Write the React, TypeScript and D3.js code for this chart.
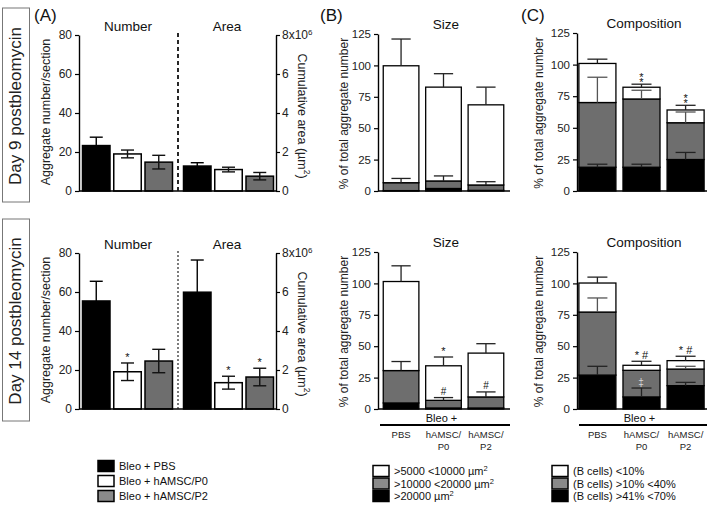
import { useEffect, useRef } from 'react'
import * as d3 from 'd3'

// treatment groups (panel A bars, legend)
const groups = ['Bleo + PBS', 'Bleo + hAMSC/P0', 'Bleo + hAMSC/P2']
const groupFills = ['#000000', '#ffffff', '#6e6e6e']

// panel A, number per section and cumulative area (x10^6 µm²)
const day9Number = [23.3, 19.0, 14.8]
const day9NumberErr = [4.3, 2.0, 3.5]
const day9Area = [1.28, 1.1, 0.76]
const day9AreaErr = [0.17, 0.12, 0.19]
const day14Number = [55.4, 19.1, 24.6]
const day14NumberErr = [10.1, 4.5, 6.0]
const day14Area = [5.99, 1.35, 1.64]
const day14AreaErr = [1.65, 0.33, 0.45]
const day9NumberMarks = ['', '', '']
const day9AreaMarks = ['', '', '']
const day14NumberMarks = ['', '*', '']
const day14AreaMarks = ['', '*', '*']

const numberTicks = [0, 20, 40, 60, 80]
const areaTicks = [0, 2, 4, 6, 8]
const percentTicks = [0, 25, 50, 75, 100, 125]

// panels B and C categories
const treatments = ['PBS', 'hAMSC/P0', 'hAMSC/P2']

// panel B size, stacked bottom -> top: large, medium, small
const sizeLegend = ['>5000 <10000 µm', '>10000 <20000 µm', '>20000 µm']
const day9SizeLarge = [0.3, 2.0, 0.5]
const day9SizeMedium = [6.3, 6.0, 4.3]
const day9SizeSmall = [93.1, 74.7, 63.8]
const day9SizeLargeErr = [0, 0, 0]
const day9SizeMediumErr = [3.4, 4.0, 2.6]
const day9SizeSmallErr = [21.3, 10.7, 14.1]
const day14SizeLarge = [4.8, 0.8, 0.8]
const day14SizeMedium = [25.8, 6.1, 8.8]
const day14SizeSmall = [70.9, 27.5, 34.9]
const day14SizeLargeErr = [0, 0, 0]
const day14SizeMediumErr = [7.2, 2.2, 4.0]
const day14SizeSmallErr = [12.5, 7.0, 7.5]

// panel C composition, stacked bottom -> top: >41% <70%, >10% <40%, <10% B cells
const compLegend = ['(B cells) <10%', '(B cells) >10% <40%', '(B cells) >41% <70%']
const day9CompHigh = [18.8, 18.8, 24.9]
const day9CompMid = [51.2, 54.0, 29.1]
const day9CompLow = [30.9, 9.3, 10.1]
const day9CompHighErr = [2.4, 2.4, 5.6]
const day9CompMidErr = [20.0, 6.9, 8.5]
const day9CompLowErr = [3.4, 2.4, 3.7]
const day14CompHigh = [27.0, 9.6, 18.6]
const day14CompMid = [50.2, 21.2, 13.2]
const day14CompLow = [23.1, 4.0, 6.7]
const day14CompHighErr = [7.0, 7.1, 2.6]
const day14CompMidErr = [11.2, 0, 2.2]
const day14CompLowErr = [4.7, 3.2, 3.5]

interface Mark {
  bar: number
  layer: number
  text: string
}

const day9SizeMarks: Mark[] = []
const day14SizeMarks: Mark[] = [
  { bar: 1, layer: 2, text: '*' },
  { bar: 1, layer: 1, text: '#' },
  { bar: 2, layer: 1, text: '#' },
]
const day9CompMarks: Mark[] = [
  { bar: 1, layer: 2, text: '**' },
  { bar: 2, layer: 2, text: '**' },
]
const day14CompMarks: Mark[] = [
  { bar: 1, layer: 2, text: '* #' },
  { bar: 2, layer: 2, text: '* #' },
]

const FONT = "'Liberation Sans', Arial, Helvetica, sans-serif"
const GREY = '#6e6e6e'
const LEGEND_GREY = '#8a8a8a'

type G = d3.Selection<SVGGElement, unknown, null, undefined>

function leftAxis(g: G, y: d3.ScaleLinear<number, number>, x: number, ticks: number[], fs: number) {
  const ax = g
    .append('g')
    .attr('transform', `translate(${x},0)`)
    .call(d3.axisLeft(y).tickValues(ticks).tickSize(4).tickPadding(3).tickSizeOuter(0))
  ax.select('.domain').attr('stroke', '#000').attr('stroke-width', 1.4)
  ax.selectAll('.tick line').attr('stroke', '#000').attr('stroke-width', 1.2)
  ax.selectAll('text').attr('font-family', FONT).attr('font-size', fs).attr('fill', '#222')
}

function vLabel(g: G, text: string, x: number, y: number, fs: number, rot: number) {
  g.append('text')
    .attr('transform', `translate(${x},${y}) rotate(${rot})`)
    .attr('text-anchor', 'middle')
    .attr('dominant-baseline', 'middle')
    .attr('font-family', FONT)
    .attr('font-size', fs)
    .attr('fill', '#222')
    .text(text)
}

function title(g: G, text: string, x: number, y: number, fs = 13.5) {
  g.append('text')
    .attr('x', x)
    .attr('y', y)
    .attr('text-anchor', 'middle')
    .attr('font-family', FONT)
    .attr('font-size', fs)
    .attr('fill', '#111')
    .text(text)
}

function drawMarks(g: G, marks: string[], cx: (i: number) => number, tops: number[]) {
  marks.forEach((m, i) => {
    if (!m) return
    g.append('text')
      .attr('x', cx(i))
      .attr('y', tops[i] + 1)
      .attr('text-anchor', 'middle')
      .attr('font-family', FONT)
      .attr('font-size', 11)
      .attr('fill', '#111')
      .text(m)
  })
}

function drawA(
  g: G,
  top: number,
  bottom: number,
  number: number[],
  numberErr: number[],
  area: number[],
  areaErr: number[],
  numberMarks: string[],
  areaMarks: string[],
  dashed: boolean,
) {
  const xl = 79
  const xr = 276
  const yN = d3.scaleLinear().domain([0, 80]).range([bottom, top])
  const yA = d3.scaleLinear().domain([0, 8]).range([bottom, top])
  const xN = d3.scaleBand<string>().domain(groups).range([xl + 1, 175]).paddingInner(0.12).paddingOuter(0.08)
  const xA = d3.scaleBand<string>().domain(groups).range([181, xr]).paddingInner(0.12).paddingOuter(0.08)

  const sets = [
    { x: xN, y: yN, v: number, e: numberErr, marks: numberMarks },
    { x: xA, y: yA, v: area, e: areaErr, marks: areaMarks },
  ]
  sets.forEach((s) => {
    const bw = s.x.bandwidth()
    g.selectAll(null)
      .data(s.v)
      .enter()
      .append('rect')
      .attr('x', (_, i) => s.x(groups[i]) ?? 0)
      .attr('y', (d) => s.y(d))
      .attr('width', bw)
      .attr('height', (d) => s.y(0) - s.y(d))
      .attr('fill', (_, i) => groupFills[i])
      .attr('stroke', '#000')
      .attr('stroke-width', 1.5)
    const cx = (i: number) => (s.x(groups[i]) ?? 0) + bw / 2
    s.v.forEach((d, i) => {
      const hi = s.y(d + s.e[i])
      const lo = s.y(d - s.e[i])
      const col = i === 0 ? '#000' : '#111'
      g.append('line').attr('x1', cx(i)).attr('x2', cx(i)).attr('y1', hi).attr('y2', lo).attr('stroke', col).attr('stroke-width', 1.4)
      ;[hi, lo].forEach((yy) =>
        g.append('line').attr('x1', cx(i) - 6.5).attr('x2', cx(i) + 6.5).attr('y1', yy).attr('y2', yy).attr('stroke', col).attr('stroke-width', 1.4),
      )
    })
    drawMarks(
      g,
      s.marks,
      cx,
      s.v.map((d, i) => s.y(d + s.e[i]) - 3),
    )
  })

  // baseline
  g.append('line').attr('x1', xl).attr('x2', xr).attr('y1', bottom).attr('y2', bottom).attr('stroke', '#000').attr('stroke-width', 1.4)

  leftAxis(g, yN, xl, numberTicks, 12)

  const ra = g
    .append('g')
    .attr('transform', `translate(${xr},0)`)
    .call(
      d3
        .axisRight(yA)
        .tickValues(areaTicks)
        .tickSize(4)
        .tickPadding(2)
        .tickSizeOuter(0)
        .tickFormat((d) => String(d)),
    )
  ra.select('.domain').attr('stroke', '#000').attr('stroke-width', 1.4)
  ra.selectAll('.tick line').attr('stroke', '#000').attr('stroke-width', 1.2)
  ra.selectAll('text').attr('font-family', FONT).attr('font-size', 12).attr('fill', '#222')
  const topTick = ra.selectAll<SVGTextElement, number>('.tick text').filter((d) => d === 8)
  topTick.text('8x10')
  topTick.append('tspan').attr('baseline-shift', 'super').attr('font-size', 8).text('6')

  g.append('line')
    .attr('x1', 178)
    .attr('x2', 178)
    .attr('y1', top - 2)
    .attr('y2', bottom)
    .attr('stroke', '#111')
    .attr('stroke-width', dashed ? 1.8 : 1.1)
    .attr('stroke-dasharray', dashed ? '4,3' : '2,2')

  title(g, 'Number', 128, top - 4)
  title(g, 'Area', 227, top - 4)

  const mid = (top + bottom) / 2
  vLabel(g, 'Aggregate number/section', 47, mid - 1, 12.5, -90)
  const rl = g
    .append('text')
    .attr('transform', `translate(301,${mid + 3}) rotate(90)`)
    .attr('text-anchor', 'middle')
    .attr('dominant-baseline', 'middle')
    .attr('font-family', FONT)
    .attr('font-size', 12.5)
    .attr('fill', '#222')
  rl.append('tspan').text('Cumulative area (µm')
  rl.append('tspan').attr('baseline-shift', 'super').attr('font-size', 8.5).text('2')
  rl.append('tspan').text(')')
}

interface Layer {
  values: number[]
  errs: number[]
  fill: string
  errColor: string
}

function drawStack(
  g: G,
  x0: number,
  x1: number,
  top: number,
  bottom: number,
  layers: Layer[],
  marks: Mark[],
  name: string,
  labelX: number,
  withCategories: boolean,
  padOuter: number,
) {
  const y = d3.scaleLinear().domain([0, 125]).range([bottom, top])
  const x = d3.scaleBand<string>().domain(treatments).range([x0 + 1, x1]).paddingInner(0.16).paddingOuter(padOuter)
  const bw = x.bandwidth()
  const cx = (i: number) => (x(treatments[i]) ?? 0) + bw / 2

  const stacked = treatments.map((_, i) => {
    let acc = 0
    return layers.map((l) => {
      const y0 = acc
      acc += l.values[i]
      return { y0, y1: acc }
    })
  })

  layers.forEach((l, li) => {
    g.selectAll(null)
      .data(treatments)
      .enter()
      .append('rect')
      .attr('x', (d) => x(d) ?? 0)
      .attr('y', (_, i) => y(stacked[i][li].y1))
      .attr('width', bw)
      .attr('height', (_, i) => y(stacked[i][li].y0) - y(stacked[i][li].y1))
      .attr('fill', l.fill)
      .attr('stroke', '#000')
      .attr('stroke-width', 1.3)
  })

  layers.forEach((l, li) => {
    treatments.forEach((_, i) => {
      const e = l.errs[i]
      if (!e) return
      const base = y(stacked[i][li].y1)
      const hi = y(stacked[i][li].y1 + e)
      g.append('line').attr('x1', cx(i)).attr('x2', cx(i)).attr('y1', base).attr('y2', hi).attr('stroke', l.errColor).attr('stroke-width', 1.3)
      g.append('line')
        .attr('x1', cx(i) - bw * 0.27)
        .attr('x2', cx(i) + bw * 0.27)
        .attr('y1', hi)
        .attr('y2', hi)
        .attr('stroke', l.errColor)
        .attr('stroke-width', 1.3)
    })
  })

  marks.forEach((m) => {
    const s = stacked[m.bar][m.layer]
    const errTop = y(s.y1 + layers[m.layer].errs[m.bar])
    if (m.text === '**') {
      // two stars stacked vertically: one text, each glyph placed on its own
      g.append('text')
        .attr('x', `${cx(m.bar)} ${cx(m.bar)}`)
        .attr('y', `${errTop - 3.5} ${errTop + 1.5}`)
        .attr('text-anchor', 'middle')
        .attr('font-family', FONT)
        .attr('font-size', 11)
        .attr('fill', '#111')
        .text(m.text)
    } else {
      g.append('text')
        .attr('x', cx(m.bar))
        .attr('y', errTop - 2.5)
        .attr('text-anchor', 'middle')
        .attr('font-family', FONT)
        .attr('font-size', m.text === '#' ? 10 : 11)
        .attr('fill', '#111')
        .text(m.text)
    }
  })

  g.append('line').attr('x1', x0).attr('x2', x1 + 2).attr('y1', bottom).attr('y2', bottom).attr('stroke', '#000').attr('stroke-width', 1.4)
  leftAxis(g, y, x0, percentTicks, 11.5)

  title(g, name, (x0 + x1) / 2 + 3, top - 5)
  vLabel(g, '% of total aggregate number', labelX, (top + bottom) / 2 + 1, 12, -90)

  if (withCategories) {
    g.append('text')
      .attr('x', cx(1) - 2)
      .attr('y', bottom + 13)
      .attr('text-anchor', 'middle')
      .attr('font-family', FONT)
      .attr('font-size', 11)
      .attr('fill', '#111')
      .text('Bleo +')
    g.append('line')
      .attr('x1', x0 + 2)
      .attr('x2', x1 + 2)
      .attr('y1', bottom + 16)
      .attr('y2', bottom + 16)
      .attr('stroke', '#000')
      .attr('stroke-width', 2)
    treatments.forEach((t, i) => {
      const parts = t.includes('/') ? [t.split('/')[0] + '/', t.split('/')[1]] : [t]
      const tx = g
        .append('text')
        .attr('x', cx(i))
        .attr('y', bottom + 29)
        .attr('text-anchor', 'middle')
        .attr('font-family', FONT)
        .attr('font-size', 9.5)
        .attr('fill', '#222')
      parts.forEach((p, k) =>
        tx
          .append('tspan')
          .attr('x', cx(i))
          .attr('dy', k === 0 ? 0 : 12)
          .text(p),
      )
    })
  }
}

function legend(g: G, x: number, y: number, step: number, fills: string[], labels: string[], sup: boolean, w: number, h: number) {
  labels.forEach((lab, i) => {
    const cy = y + i * step
    g.append('rect')
      .attr('x', x)
      .attr('y', cy - h / 2)
      .attr('width', w)
      .attr('height', h)
      .attr('fill', fills[i])
      .attr('stroke', '#000')
      .attr('stroke-width', 1.5)
    const t = g
      .append('text')
      .attr('x', x + w + 5)
      .attr('y', cy + 4)
      .attr('font-family', FONT)
      .attr('font-size', 11)
      .attr('fill', '#111')
      .text(lab)
    if (sup) t.append('tspan').attr('baseline-shift', 'super').attr('font-size', 7.5).text('2')
  })
}

export default function App() {
  const ref = useRef<SVGSVGElement | null>(null)

  useEffect(() => {
    if (!ref.current) return
    const svg = d3.select(ref.current)
    svg.selectAll('*').remove()
    const g = svg.append('g') as unknown as G

    // row labels
    const rows = [
      { y: 8, h: 194, text: 'Day 9 postbleomycin' },
      { y: 219, h: 202, text: 'Day 14 postbleomycin' },
    ]
    rows.forEach((r) => {
      g.append('rect').attr('x', 2.5).attr('y', r.y).attr('width', 27).attr('height', r.h).attr('fill', '#fff').attr('stroke', '#777').attr('stroke-width', 1)
      vLabel(g, r.text, 17, r.y + r.h / 2 + 1, 17, -90)
    })

    // panel letters
    ;[
      ['(A)', 34],
      ['(B)', 320],
      ['(C)', 521],
    ].forEach(([t, x]) =>
      g
        .append('text')
        .attr('x', x as number)
        .attr('y', 21)
        .attr('font-family', FONT)
        .attr('font-size', 17)
        .attr('fill', '#111')
        .text(t as string),
    )

    drawA(g, 35, 191, day9Number, day9NumberErr, day9Area, day9AreaErr, day9NumberMarks, day9AreaMarks, true)
    drawA(g, 253, 409, day14Number, day14NumberErr, day14Area, day14AreaErr, day14NumberMarks, day14AreaMarks, false)

    const sizeLayers = (large: number[], medium: number[], small: number[], le: number[], me: number[], se: number[]): Layer[] => [
      { values: large, errs: le, fill: '#000', errColor: '#000' },
      { values: medium, errs: me, fill: GREY, errColor: '#222' },
      { values: small, errs: se, fill: '#fff', errColor: '#222' },
    ]
    const compLayers = (high: number[], mid: number[], low: number[], he: number[], me: number[], le: number[]): Layer[] => [
      { values: high, errs: he, fill: '#000', errColor: '#222' },
      { values: mid, errs: me, fill: GREY, errColor: '#555' },
      { values: low, errs: le, fill: '#fff', errColor: '#222' },
    ]

    drawStack(
      g, 378, 508, 34, 191,
      sizeLayers(day9SizeLarge, day9SizeMedium, day9SizeSmall, day9SizeLargeErr, day9SizeMediumErr, day9SizeSmallErr),
      day9SizeMarks, 'Size', 345, false, 0.1,
    )
    drawStack(
      g, 378, 508, 252, 409,
      sizeLayers(day14SizeLarge, day14SizeMedium, day14SizeSmall, day14SizeLargeErr, day14SizeMediumErr, day14SizeSmallErr),
      day14SizeMarks, 'Size', 345, true, 0.1,
    )
    drawStack(
      g, 577, 705, 33, 191,
      compLayers(day9CompHigh, day9CompMid, day9CompLow, day9CompHighErr, day9CompMidErr, day9CompLowErr),
      day9CompMarks, 'Composition', 540, false, 0.02,
    )
    drawStack(
      g, 577, 705, 252, 409,
      compLayers(day14CompHigh, day14CompMid, day14CompLow, day14CompHighErr, day14CompMidErr, day14CompLowErr),
      day14CompMarks, 'Composition', 540, true, 0.02,
    )

    // double dagger inside the P0 bar, day 14 composition
    const yC = d3.scaleLinear().domain([0, 125]).range([409, 252])
    g.append('text')
      .attr('x', 641)
      .attr('y', yC(day14CompHigh[1] + day14CompMid[1] * 0.55) + 4)
      .attr('text-anchor', 'middle')
      .attr('font-family', FONT)
      .attr('font-size', 10)
      .attr('fill', '#d8d8d8')
      .text('‡')

    legend(g, 98, 466, 15, groupFills.map((f) => (f === GREY ? LEGEND_GREY : f)), groups, false, 16, 11)
    legend(g, 373, 471, 12.5, ['#fff', LEGEND_GREY, '#000'], sizeLegend, true, 16, 11)
    legend(g, 552, 471, 12.5, ['#fff', LEGEND_GREY, '#000'], compLegend, false, 16, 11)
  }, [])

  return (
    <svg
      ref={ref}
      width={709}
      height={507}
      viewBox="0 0 709 507"
      style={{ position: 'absolute', left: 0, top: 0, background: '#fff' }}
    />
  )
}
